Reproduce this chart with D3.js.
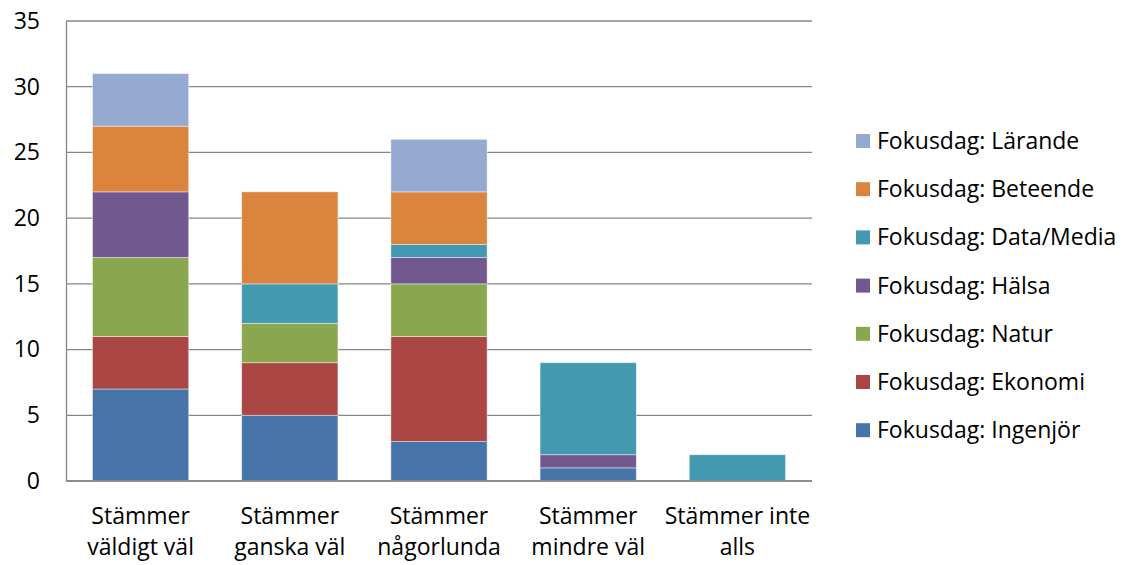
<!DOCTYPE html>
<html>
<head>
<meta charset="utf-8">
<script src="https://cdn.jsdelivr.net/npm/d3@7"></script>
<style>
  body { margin: 0; background: #fff; }
  text { font-family: "Open Sans", "Noto Sans", sans-serif; fill: #000; }
</style>
</head>
<body>
<script>
// kategorier (x-axel), varje etikett i två rader
var categories = ['Stämmer väldigt väl', 'Stämmer ganska väl', 'Stämmer någorlunda', 'Stämmer mindre väl', 'Stämmer inte alls'];
var categoryLines = [
  ['Stämmer', 'väldigt väl'],
  ['Stämmer', 'ganska väl'],
  ['Stämmer', 'någorlunda'],
  ['Stämmer', 'mindre väl'],
  ['Stämmer inte', 'alls']
];
// serier, nedifrån och upp
var seriesNames = ['Fokusdag: Ingenjör', 'Fokusdag: Ekonomi', 'Fokusdag: Natur', 'Fokusdag: Hälsa',
  'Fokusdag: Data/Media', 'Fokusdag: Beteende', 'Fokusdag: Lärande'];
var ingenjor  = [7, 5, 3, 1, 0];
var ekonomi   = [4, 4, 8, 0, 0];
var natur     = [6, 3, 4, 0, 0];
var halsa     = [5, 0, 2, 1, 0];
var dataMedia = [0, 3, 1, 7, 2];
var beteende  = [5, 7, 4, 0, 0];
var larande   = [4, 0, 4, 0, 0];
var yTicks = [0, 5, 10, 15, 20, 25, 30, 35];

var colors = ['#4674a9', '#aa4644', '#8aa64f', '#71598f', '#4299b0', '#db843d', '#94aad1'];

var svgWidth = 1127;
var svgHeight = 565;
var margin = { top: 21, right: 315, bottom: 84, left: 66 };
var fontSize = '23px';

var svg = d3.select('body')
  .append('svg')
  .attr('width', svgWidth)
  .attr('height', svgHeight);

// bygg tabell för stack
var seriesValues = [ingenjor, ekonomi, natur, halsa, dataMedia, beteende, larande];
var table = categories.map(function (c, i) {
  var row = { category: c };
  seriesNames.forEach(function (s, j) { row[s] = seriesValues[j][i]; });
  return row;
});
var stacked = d3.stack().keys(seriesNames)(table);

var x = d3.scaleBand()
  .domain(categories)
  .range([margin.left, svgWidth - margin.right])
  .paddingInner(0.355)
  .paddingOuter(0.1775);

var y = d3.scaleLinear()
  .domain([0, 35])
  .range([svgHeight - margin.bottom, margin.top]);

// rutnät
svg.append('g')
  .selectAll('line')
  .data(yTicks)
  .join('line')
  .attr('x1', margin.left)
  .attr('x2', svgWidth - margin.right)
  .attr('y1', d => y(d))
  .attr('y2', d => y(d))
  .attr('stroke', '#868686')
  .attr('stroke-width', 1.3);

// staplar
var bars = svg.append('g');
stacked.forEach(function (layer, j) {
  bars.append('g')
    .attr('fill', colors[j])
    .selectAll('rect')
    .data(layer.filter(d => d[1] - d[0] > 0))
    .join('rect')
    .attr('x', d => x(d.data.category))
    .attr('y', d => y(d[1]))
    .attr('width', x.bandwidth())
    .attr('height', d => y(d[0]) - y(d[1]))
    .attr('stroke', 'rgba(255,255,255,0.55)')
    .attr('stroke-width', 0.8);
});

// y-axel
var yAxis = svg.append('g')
  .attr('transform', `translate(${margin.left},0)`)
  .call(d3.axisLeft(y).tickValues(yTicks).tickSize(0).tickPadding(26));
yAxis.select('.domain').attr('stroke', '#868686').attr('stroke-width', 1.3);
yAxis.selectAll('text')
  .style('font-size', fontSize)
  .style('font-family', '"Open Sans", "Noto Sans", sans-serif');

// x-axel
svg.append('line')
  .attr('x1', margin.left)
  .attr('x2', svgWidth - margin.right)
  .attr('y1', y(0))
  .attr('y2', y(0))
  .attr('stroke', '#868686')
  .attr('stroke-width', 1.3);

svg.append('g')
  .selectAll('text')
  .data(categories)
  .join('text')
  .attr('text-anchor', 'middle')
  .style('font-size', fontSize)
  .attr('transform', d => `translate(${x(d) + x.bandwidth() / 2},524)`)
  .each(function (d, i) {
    var t = d3.select(this);
    categoryLines[i].forEach(function (line, k) {
      t.append('tspan').attr('x', 0).attr('y', k * 31).text(line);
    });
  });

// legend, översta serien först
var legendOrder = seriesNames.map((s, j) => j).reverse();
var legend = svg.append('g')
  .selectAll('g')
  .data(legendOrder)
  .join('g')
  .attr('transform', (d, i) => `translate(856,${141 + i * 48.2})`);
legend.append('rect')
  .attr('x', 0)
  .attr('y', -7)
  .attr('width', 14)
  .attr('height', 14)
  .attr('fill', d => colors[d]);
legend.append('text')
  .attr('x', 21)
  .attr('dy', '0.35em')
  .style('font-size', fontSize)
  .text(d => seriesNames[d]);
</script>
</body>
</html>
